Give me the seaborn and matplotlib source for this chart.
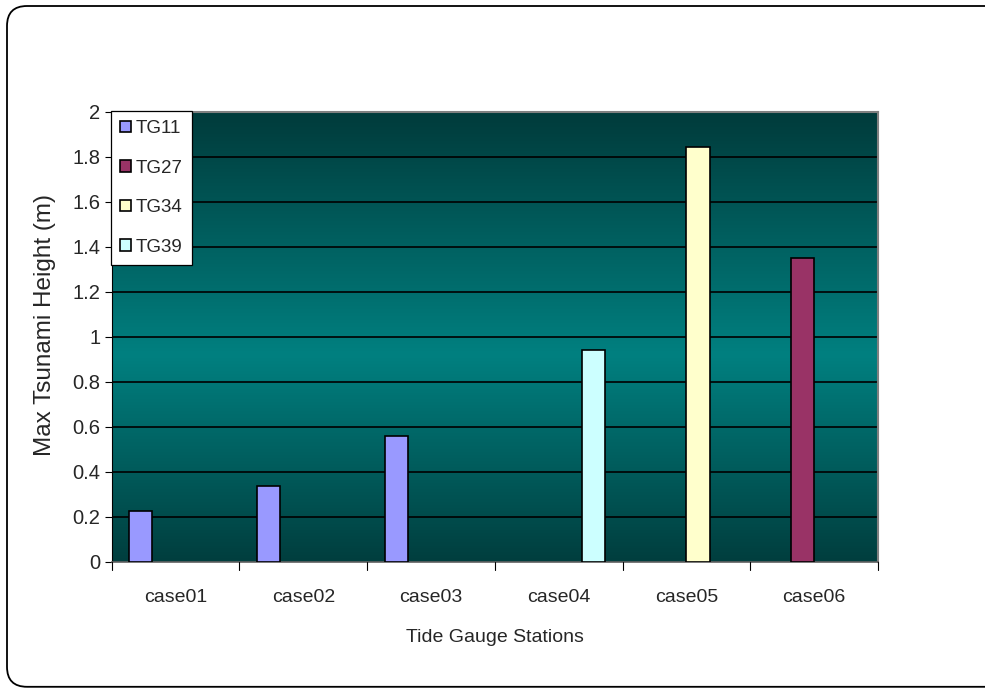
import numpy as np
import pandas as pd
import matplotlib
matplotlib.use("Agg")
import matplotlib.pyplot as plt
import seaborn as sns
from matplotlib.colors import LinearSegmentedColormap
from matplotlib.patches import FancyBboxPatch

cases = ["case01", "case02", "case03", "case04", "case05", "case06"]
stations = ["TG11", "TG11", "TG11", "TG39", "TG34", "TG27"]
heights = [0.225, 0.336, 0.56, 0.941, 1.844, 1.351]
hue_levels = ["TG11", "TG27", "TG34", "TG39"]
hue_colors = ["#9999FF", "#993366", "#FFFFCC", "#CCFFFF"]
yticks = [0, 0.2, 0.4, 0.6, 0.8, 1, 1.2, 1.4, 1.6, 1.8, 2]

df = pd.DataFrame({"case": cases, "station": stations, "height": heights})

sns.set_theme(style="white")
plt.rcParams["font.family"] = ["Liberation Sans", "DejaVu Sans"]

fig = plt.figure(figsize=(9.85, 6.88), dpi=100)
ax = fig.add_axes([0.1134, 0.1836, 0.778, 0.654])

# rounded frame around figure (in inches)
frame = FancyBboxPatch((0.07, 0.012), 10.2, 6.82 - 0.012,
                       boxstyle="round,pad=0,rounding_size=0.2",
                       transform=fig.dpi_scale_trans, fill=False,
                       edgecolor="black", linewidth=1.3, zorder=0)
fig.patches.append(frame)

# gradient background
cmap = LinearSegmentedColormap.from_list(
    "teal", [(0, "#003E3E"), (0.46, "#008080"), (1, "#003B3B")])
grad = np.linspace(0, 1, 256).reshape(-1, 1)
ax.imshow(grad, cmap=cmap, aspect="auto", extent=[-0.5, 5.5, 2, 0],
          zorder=0, origin="upper")

sns.barplot(data=df, x="case", y="height", hue="station",
            hue_order=hue_levels, order=cases,
            palette=dict(zip(hue_levels, hue_colors)),
            width=4 / 5.5, dodge=True, edgecolor="black", linewidth=1.2,
            saturation=1, ax=ax, zorder=3, err_kws={"linewidth": 0})

ax.set_xlim(-0.5, 5.5)
ax.set_ylim(0, 2)
ax.set_yticks(yticks)
ax.set_yticklabels([f"{v:g}" for v in yticks], fontsize=14.5)
ax.tick_params(axis="x", labelsize=14, pad=20, length=0)
ax.tick_params(axis="y", length=5, direction="out", left=True, pad=3,
               color="black", width=0.8)
for yv in yticks[1:-1]:
    ax.axhline(yv, color="black", linewidth=1.2, zorder=1)

# x category boundary ticks
for xb in np.arange(-0.5, 6.0, 1.0):
    ax.plot([xb, xb], [0, -0.035], color="black", linewidth=0.8,
            clip_on=False, zorder=4)

for side in ["top", "right"]:
    ax.spines[side].set_color("#808080")
    ax.spines[side].set_linewidth(1.5)
ax.spines["left"].set_color("black")
ax.spines["left"].set_linewidth(0.8)
ax.spines["bottom"].set_color("#606060")
ax.spines["bottom"].set_linewidth(1.2)

ax.set_xlabel("Tide Gauge Stations", fontsize=14, labelpad=16)
ax.set_ylabel("Max Tsunami Height (m)", fontsize=17.5)
ax.yaxis.set_label_coords(-0.087, 0.526)
ax.yaxis.label.set_verticalalignment("center")

leg = ax.legend(loc="upper left", bbox_to_anchor=(-0.001, 1.002), fontsize=13.5,
                frameon=True, fancybox=False, edgecolor="black",
                framealpha=1, handlelength=0.55, handleheight=0.55,
                handletextpad=0.25, borderpad=0.5, labelspacing=1.2,
                borderaxespad=0)
leg.get_frame().set_linewidth(0.9)
leg.set_zorder(10)

fig.savefig("out.png", dpi=100, facecolor="white")
